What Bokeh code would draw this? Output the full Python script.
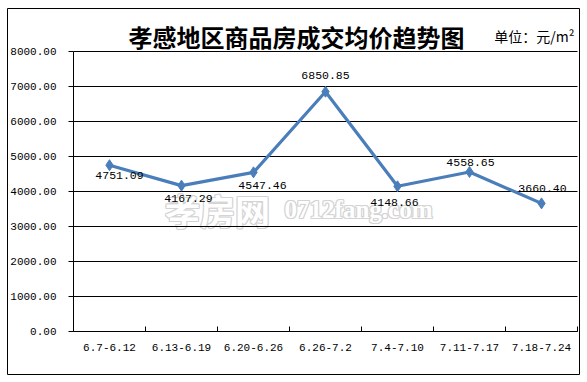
from bokeh.plotting import figure
from bokeh.models import (Range1d, FixedTicker, NumeralTickFormatter, Label, ColumnDataSource)
from bokeh.embed import file_html
from bokeh.resources import INLINE
import numpy as np

# ---- data ----
categories = ["6.7-6.12", "6.13-6.19", "6.20-6.26", "6.26-7.2", "7.4-7.10", "7.11-7.17", "7.18-7.24"]
prices = [4751.09, 4167.29, 4547.46, 6850.85, 4148.66, 4558.65, 3660.40]
y_ticks = [0, 1000, 2000, 3000, 4000, 5000, 6000, 7000, 8000]
title_text = "孝感地区商品房成交均价趋势图"
unit_text = "单位：元/m²"

# label placement styles (pixel offsets relative to each point)
label_dx = [10, 7, 9, 0, -3, 1, 1]
label_dy = [10, 13, 13, -16, 16, -9, -15]

LINE_COLOR = "#4A7EBB"
MONO = "Liberation Mono"
CJK = "Noto Sans CJK SC"

# ---- layout (pixels) ----
W, H = 587, 382
BOX_L, BOX_R, BOX_T, BOX_B = 7, 579, 8, 374       # outer border = frame
PLOT_L, PLOT_R, PLOT_T, PLOT_B = 73, 577, 51, 331  # chart area inside the border

n = len(categories)
ymax = y_ticks[-1]
xs = np.arange(n) + 0.5

xppu = (PLOT_R - PLOT_L) / n
yppu = (PLOT_B - PLOT_T) / ymax
x_range = Range1d(-(PLOT_L - BOX_L) / xppu, n + (BOX_R - PLOT_R) / xppu)
y_range = Range1d(-(BOX_B - PLOT_B) / yppu, ymax + (PLOT_T - BOX_T) / yppu)

p = figure(width=W, height=H, output_backend="svg", toolbar_location=None,
           x_range=x_range, y_range=y_range,
           min_border_left=BOX_L, min_border_right=W - BOX_R,
           min_border_top=BOX_T, min_border_bottom=H - BOX_B)
p.outline_line_color = "black"
p.outline_line_width = 1
p.background_fill_color = "white"
p.border_fill_color = "white"
p.xgrid.visible = False
p.ygrid.visible = False

# watermark (outlined effect), kept underneath the chart marks
WM = [("孝房网", 217, CJK, "35px"), ("0712fang.com", 358, "Liberation Serif", "25px")]
for txt, cx, fnt, fs in WM:
    for dx, dy in [(-1, 0), (1, 0), (0, -1), (0, 1), (-1, -1), (1, 1), (1, -1), (-1, 1)]:
        p.add_layout(Label(x=cx, y=209, x_units="canvas", y_units="canvas", text=txt,
                           x_offset=dx, y_offset=dy, text_align="center", text_baseline="middle",
                           text_font=fnt, text_font_size=fs, text_font_style="bold",
                           text_color="#d4d4d4", level="underlay"))
    p.add_layout(Label(x=cx, y=209, x_units="canvas", y_units="canvas", text=txt,
                       text_align="center", text_baseline="middle",
                       text_font=fnt, text_font_size=fs, text_font_style="bold",
                       text_color="white", level="underlay"))

# horizontal grid lines over the chart area, at the tick values
p.segment(x0=0, x1=n, y0=y_ticks, y1=y_ticks, line_color="black", line_width=1)

# y axis
ya = p.yaxis[0]
ya.fixed_location = 0
ya.bounds = (0, ymax)
ya.ticker = FixedTicker(ticks=y_ticks)
ya.formatter = NumeralTickFormatter(format="0.00")
ya.axis_line_color = "black"
ya.major_tick_line_color = "black"
ya.major_tick_out = 5
ya.major_tick_in = 0
ya.minor_tick_line_color = None
ya.major_label_standoff = 12
ya.major_label_text_font = MONO
ya.major_label_text_font_size = "11px"
ya.major_label_text_color = "black"

# x axis: labels at centres (major), tick marks at boundaries (minor)
xa = p.xaxis[0]
xa.fixed_location = 0
xa.bounds = (0, n)
xa.ticker = FixedTicker(ticks=list(xs), minor_ticks=list(range(n + 1)))
xa.major_label_overrides = {float(x): c for x, c in zip(xs, categories)}
xa.axis_line_color = "black"
xa.major_tick_line_color = None
xa.minor_tick_line_color = "black"
xa.minor_tick_in = 5
xa.minor_tick_out = 0
xa.major_label_standoff = 6
xa.major_label_text_font = MONO
xa.major_label_text_font_size = "11px"
xa.major_label_text_color = "black"

# series
src = ColumnDataSource(dict(x=xs, y=prices,
                            lbl=["%.2f" % v for v in prices],
                            dx=label_dx, dy=label_dy))
p.line("x", "y", source=src, line_color=LINE_COLOR, line_width=3.2)
p.scatter("x", "y", source=src, marker="diamond", size=11, fill_color=LINE_COLOR,
          line_color=LINE_COLOR)
p.text("x", "y", text="lbl", source=src, x_offset="dx", y_offset="dy",
       text_align="center", text_baseline="middle", text_font={"value": MONO},
       text_font_size="11.5px", text_color="black")

# title & unit
p.add_layout(Label(x=296, y=36, x_units="canvas", y_units="canvas", text=title_text,
                   text_align="center", text_baseline="middle", text_font=CJK,
                   text_font_size="24px", text_font_style="bold", text_color="black"))
p.add_layout(Label(x=574, y=35, x_units="canvas", y_units="canvas", text=unit_text,
                   text_align="right", text_baseline="middle", text_font=CJK,
                   text_font_size="14px", text_color="black"))

open("out.html", "w").write(file_html(p, INLINE))
